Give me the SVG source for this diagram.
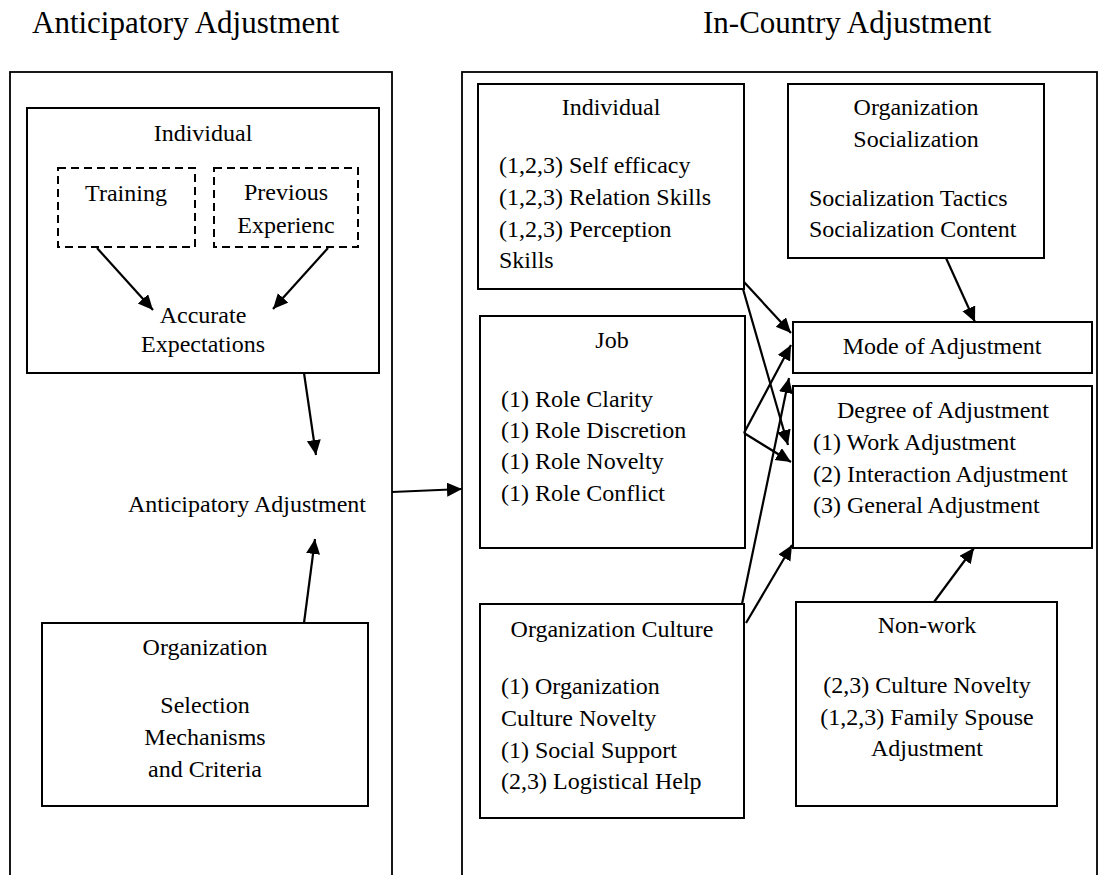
<svg xmlns="http://www.w3.org/2000/svg" width="1099" height="875" viewBox="0 0 1099 875">
<style>
text{font-family:"Liberation Serif","Times New Roman",serif;font-size:24px;fill:#000}
.h{font-size:31px}
.c{text-anchor:middle}
.box{fill:none;stroke:#000;stroke-width:2}
.outer{fill:none;stroke:#000;stroke-width:1.8}
.dash{fill:none;stroke:#000;stroke-width:2;stroke-dasharray:8,5}
.arr{fill:none;stroke:#000;stroke-width:2.2;marker-end:url(#ah)}
</style>
<defs>
<marker id="ah" markerUnits="userSpaceOnUse" markerWidth="17" markerHeight="16" refX="15" refY="7" orient="auto">
<path d="M0,0 L15,7 L0,14 Z" fill="#000"/>
</marker>
</defs>
<rect width="1099" height="875" fill="#fff"/>
<text class="h" x="32" y="33">Anticipatory Adjustment</text>
<text class="h" x="703" y="33">In-Country Adjustment</text>

<g id="anticipatory-frame"><rect class="outer" x="10" y="72" width="382" height="830"/></g>
<g id="incountry-frame"><rect class="outer" x="462" y="72" width="635" height="830"/></g>

<g id="individual-left">
<rect class="box" x="27" y="108" width="352" height="265"/>
<text class="c" x="203" y="141">Individual</text>
<text class="c" x="203" y="323">Accurate</text>
<text class="c" x="203" y="352">Expectations</text>
</g>
<g id="training">
<rect class="dash" x="58" y="168" width="137" height="79"/>
<text class="c" x="126" y="201">Training</text>
</g>
<g id="previous">
<rect class="dash" x="214" y="168" width="144" height="79"/>
<text class="c" x="286" y="200">Previous</text>
<text class="c" x="286" y="233">Experienc</text>
</g>
<g id="anticipatory-adjustment">
<text class="c" x="247" y="512">Anticipatory Adjustment</text>
</g>
<g id="organization-left">
<rect class="box" x="42" y="623" width="326" height="183"/>
<text class="c" x="205" y="655">Organization</text>
<text class="c" x="205" y="713">Selection</text>
<text class="c" x="205" y="745">Mechanisms</text>
<text class="c" x="205" y="777">and Criteria</text>
</g>

<g id="individual-right">
<rect class="box" x="478" y="84" width="266" height="205"/>
<text class="c" x="611" y="115">Individual</text>
<text x="499" y="173">(1,2,3) Self efficacy</text>
<text x="499" y="205">(1,2,3) Relation Skills</text>
<text x="499" y="237">(1,2,3) Perception</text>
<text x="499" y="268">Skills</text>
</g>
<g id="org-socialization">
<rect class="box" x="788" y="84" width="256" height="174"/>
<text class="c" x="916" y="115">Organization</text>
<text class="c" x="916" y="147">Socialization</text>
<text x="809" y="206">Socialization Tactics</text>
<text x="809" y="237">Socialization Content</text>
</g>
<g id="job">
<rect class="box" x="480" y="316" width="265" height="232"/>
<text class="c" x="612" y="348">Job</text>
<text x="501" y="407">(1) Role Clarity</text>
<text x="501" y="438">(1) Role Discretion</text>
<text x="501" y="469">(1) Role Novelty</text>
<text x="501" y="501">(1) Role Conflict</text>
</g>
<g id="mode">
<rect class="box" x="793" y="322" width="299" height="51"/>
<text class="c" x="942" y="354">Mode of Adjustment</text>
</g>
<g id="degree">
<rect class="box" x="793" y="386" width="299" height="162"/>
<text class="c" x="943" y="418">Degree of Adjustment</text>
<text x="813" y="450">(1) Work Adjustment</text>
<text x="813" y="482">(2) Interaction Adjustment</text>
<text x="813" y="513">(3) General Adjustment</text>
</g>
<g id="org-culture">
<rect class="box" x="480" y="604" width="264" height="214"/>
<text class="c" x="612" y="637">Organization Culture</text>
<text x="501" y="694">(1) Organization</text>
<text x="501" y="726">Culture Novelty</text>
<text x="501" y="758">(1) Social Support</text>
<text x="501" y="789">(2,3) Logistical Help</text>
</g>
<g id="non-work">
<rect class="box" x="796" y="602" width="261" height="204"/>
<text class="c" x="927" y="633">Non-work</text>
<text class="c" x="927" y="693">(2,3) Culture Novelty</text>
<text class="c" x="927" y="725">(1,2,3) Family Spouse</text>
<text class="c" x="927" y="756">Adjustment</text>
</g>

<g id="connectors">
<line class="arr" x1="97" y1="248" x2="153" y2="310"/>
<line class="arr" x1="328" y1="248" x2="273" y2="309"/>
<line class="arr" x1="304" y1="373" x2="316" y2="455"/>
<line class="arr" x1="304" y1="623" x2="315" y2="539"/>
<line class="arr" x1="392" y1="492" x2="462" y2="489"/>
<line class="arr" x1="946" y1="258" x2="975" y2="322"/>
<line class="arr" x1="744" y1="282" x2="791" y2="333"/>
<line class="arr" x1="743" y1="289" x2="788" y2="445"/>
<line class="arr" x1="744" y1="433" x2="791" y2="345"/>
<line class="arr" x1="744" y1="433" x2="791" y2="462"/>
<line class="arr" x1="742" y1="604" x2="789" y2="378"/>
<line class="arr" x1="746" y1="623" x2="792" y2="545"/>
<line class="arr" x1="934" y1="602" x2="974" y2="548"/>
</g>
</svg>
